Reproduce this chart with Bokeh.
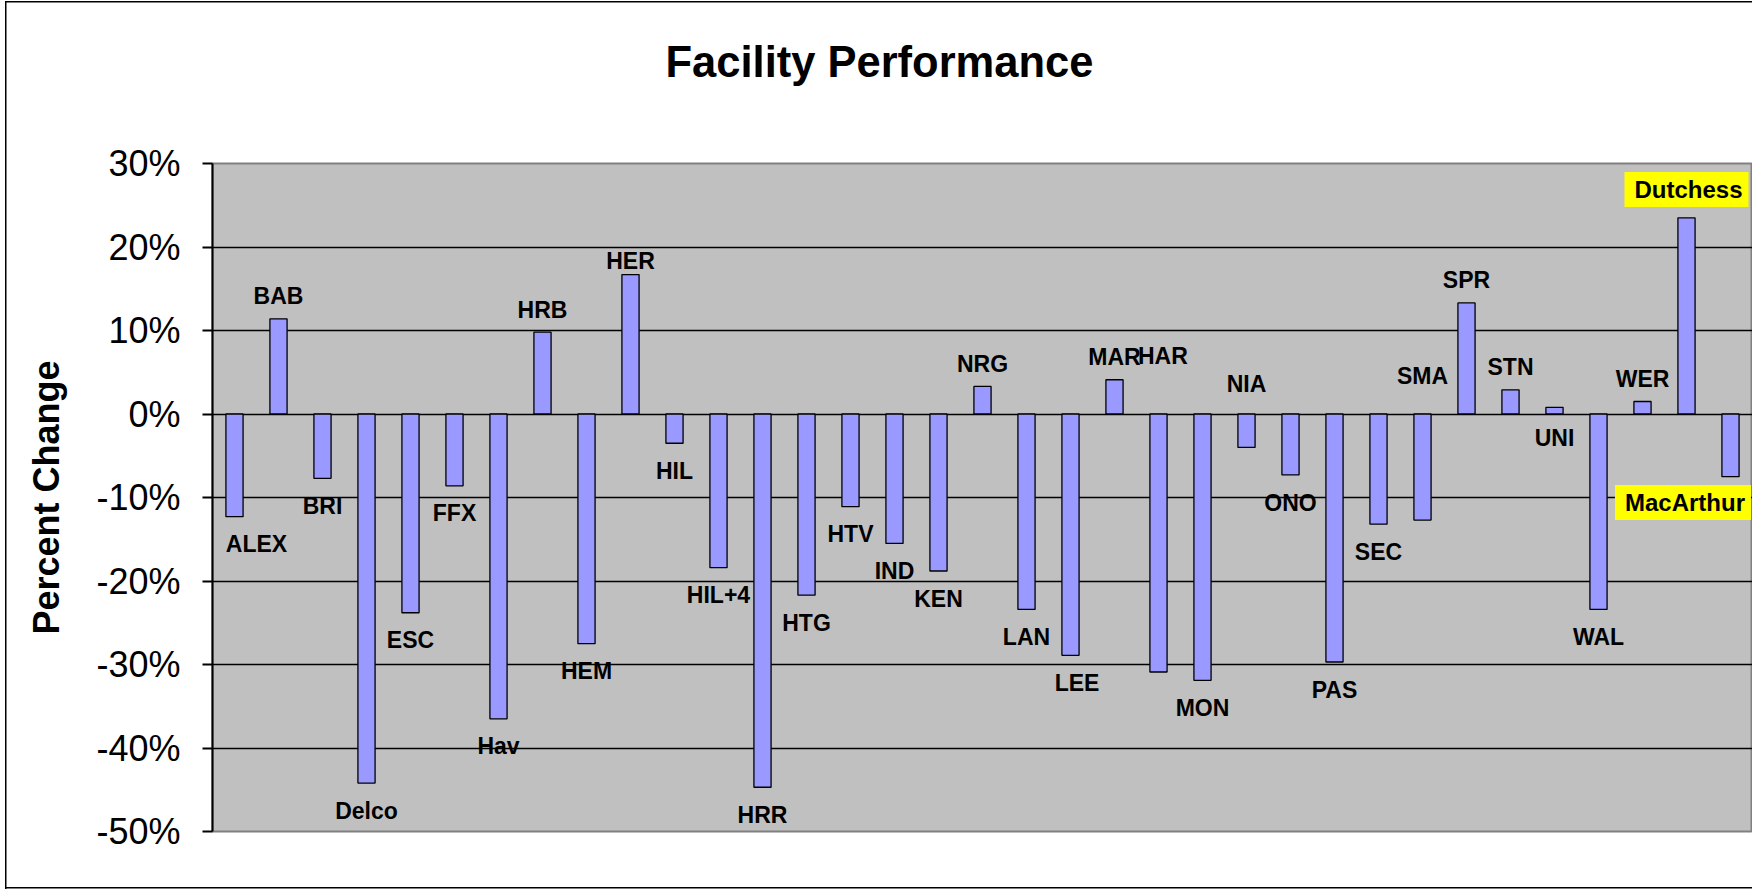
from bokeh.plotting import figure
from bokeh.models import ColumnDataSource, FactorRange, Range1d, FixedTicker, NumeralTickFormatter, Title
from bokeh.core.properties import value
from bokeh.embed import file_html
from bokeh.resources import INLINE

# ---- data ----
facilities = ["ALEX", "BAB", "BRI", "Delco", "ESC", "FFX", "Hav", "HRB", "HEM", "HER",
              "HIL", "HIL+4", "HRR", "HTG", "HTV", "IND", "KEN", "NRG", "LAN", "LEE",
              "MAR", "HAR", "MON", "NIA", "ONO", "PAS", "SEC", "SMA", "SPR", "STN",
              "UNI", "WAL", "WER", "Dutchess", "MacArthur"]
pct_change = [-12.3, 11.4, -7.7, -44.2, -23.8, -8.6, -36.5, 9.8, -27.5, 16.7,
              -3.5, -18.4, -44.7, -21.7, -11.1, -15.5, -18.8, 3.3, -23.4, -28.9,
              4.1, -30.9, -31.9, -4.0, -7.3, -29.7, -13.2, -12.7, 13.3, 2.9,
              0.8, -23.4, 1.5, 23.5, -7.5]
y_ticks = [-50, -40, -30, -20, -10, 0, 10, 20, 30]
highlighted = ["Dutchess", "MacArthur"]

title_text = "Facility Performance"
y_title = "Percent Change"

# ---- label placement (style, in percent points / category units) ----
label_gap_below = 3.3
label_gap_above = 2.7
label_y_override = {"HAR": 7.0, "NIA": 3.6, "SMA": 4.5, "UNI": -2.9, "HER": 18.3,
                    "Dutchess": 26.9, "MacArthur": -10.6}
label_x_offset = {"ALEX": 0.5, "LEE": 0.15, "HAR": 0.1, "MacArthur": -1.08}


def label_pos(name, v_pct):
    if name in label_y_override:
        return label_y_override[name] / 100.0
    if v_pct < 0:
        return (v_pct - label_gap_below) / 100.0
    return (v_pct + label_gap_above) / 100.0


vals = [v / 100.0 for v in pct_change]

lab_x, lab_y, lab_t = [], [], []
hl_x, hl_y, hl_t = [], [], []
for name, v in zip(facilities, pct_change):
    x = [name, label_x_offset.get(name, 0.0)]
    y = label_pos(name, v)
    if name in highlighted:
        hl_x.append(x); hl_y.append(y); hl_t.append(name)
    else:
        lab_x.append(x); lab_y.append(y); lab_t.append(name)

src = ColumnDataSource(data=dict(fac=facilities, val=vals))
lab_src = ColumnDataSource(data=dict(x=lab_x, y=lab_y, t=lab_t))
hl_src = ColumnDataSource(data=dict(x=hl_x, y=hl_y, t=hl_t))

FONT = "Liberation Sans"

p = figure(width=1752, height=889, output_backend="svg", toolbar_location=None,
           x_range=FactorRange(*facilities, range_padding=0),
           y_range=Range1d(-0.5, 0.3))
p.min_border_left = 212
p.min_border_right = 0
p.min_border_top = 163
p.min_border_bottom = 58
p.background_fill_color = "#C0C0C0"
p.border_fill_color = None
p.outline_line_color = "#808080"
p.outline_line_width = 2
# thin chart-area border (left, top, bottom) drawn behind the transparent canvas
p.styles = {
    "background-color": "white",
    "background-image": "linear-gradient(#000,#000), linear-gradient(#000,#000), linear-gradient(#000,#000)",
    "background-position": "5px 1px, 5px 1px, 5px 887px",
    "background-size": "1.5px 888px, 1760px 1.5px, 1760px 1.5px",
    "background-repeat": "no-repeat",
}

# a blank second line gives the title panel extra height so the title sits higher
t = Title(text=title_text + "\n ", align="left", offset=453, standoff=55,
          vertical_align="top",
          text_font=FONT, text_font_style="bold", text_font_size="43.5px",
          text_color="black")
p.add_layout(t, "above")

p.vbar(x="fac", top="val", bottom=0, width=0.39, source=src,
       fill_color="#9999FF", line_color="black", line_width=1.3)

p.xaxis.visible = False
p.xgrid.visible = False

yt = [tk / 100.0 for tk in y_ticks]
p.yaxis.ticker = FixedTicker(ticks=yt)
p.yaxis.formatter = NumeralTickFormatter(format="0%")
p.yaxis.major_label_text_font = FONT
p.yaxis.major_label_text_font_size = "36px"
p.yaxis.major_label_text_color = "black"
p.yaxis.major_label_standoff = 22
p.yaxis.major_tick_out = 10
p.yaxis.major_tick_in = 0
p.yaxis.minor_tick_out = 0
p.yaxis.minor_tick_in = 0
p.yaxis.major_tick_line_color = "black"
p.yaxis.major_tick_line_width = 2
p.yaxis.axis_line_color = "black"
p.yaxis.axis_line_width = 2
p.yaxis.axis_label = y_title
p.yaxis.axis_label_text_font = FONT
p.yaxis.axis_label_text_font_style = "bold"
p.yaxis.axis_label_text_font_size = "36px"
p.yaxis.axis_label_text_color = "black"
p.yaxis.axis_label_standoff = 26

p.ygrid.ticker = FixedTicker(ticks=yt[1:-1])
p.ygrid.grid_line_color = "black"
p.ygrid.grid_line_width = 1.5

p.text(x="x", y="y", text="t", source=lab_src, text_font=value(FONT),
       text_font_style="bold", text_font_size="23px", text_color="black",
       text_align="center", text_baseline="middle")

p.text(x="x", y="y", text="t", source=hl_src, text_font=value(FONT),
       text_font_style="bold", text_font_size="24px", text_color="black",
       text_align="center", text_baseline="middle",
       background_fill_color="#FFFF00",
       padding=dict(left=10, right=6, top=4, bottom=4))

open("out.html", "w").write(file_html(p, INLINE))
